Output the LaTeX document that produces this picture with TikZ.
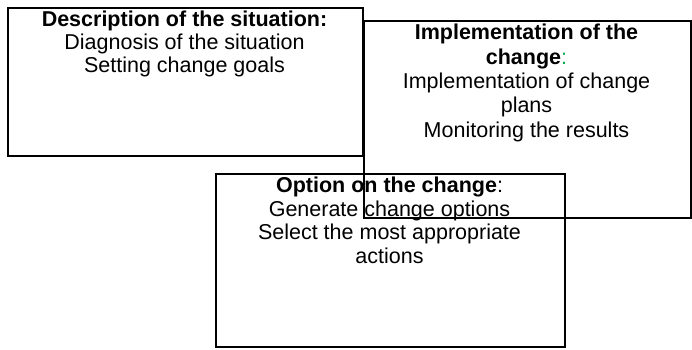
\documentclass[tikz,border=0pt]{standalone}
\usepackage{fontspec}
\setmainfont{Liberation Sans}
\usetikzlibrary{positioning}
\definecolor{colongreen}{RGB}{0,176,80}

\tikzset{
	stagebox/.style={draw, line width=1.8pt, inner sep=0pt, anchor=north west},
	stagetext/.style={align=center, anchor=base, inner sep=0pt,
		font=\fontsize{21.5}{23.4}\selectfont}
}

\begin{document}
\begin{tikzpicture}[x=1pt, y=-1pt]
	\useasboundingbox (0,0) rectangle (692,349);

	\node[stagebox, minimum width=355pt, minimum height=148pt] (situation) at (7,7) {};
	\node[stagetext, font=\fontsize{21.5}{22.6}\selectfont] (situationtxt) at (184.5,72) {\textbf{Description of the situation:}\\Diagnosis of the situation\\Setting change goals};

	%partie du bas
	\node[stagebox, minimum width=349pt, minimum height=173pt] (option) at (215,173) {};
	\node[stagetext] (optiontxt) at (389.5,263) {\textbf{Option on the change}:\\Generate change options\\Select the most appropriate\\actions};

	%partie droite
	\node[stagebox, minimum width=327pt, minimum height=197pt] (implementation) at (363,20) {};
	\node[stagetext, font=\fontsize{21.5}{24.3}\selectfont] (implementationtxt) at (526.5,137) {\textbf{Implementation of the}\\\textbf{change}\textcolor{colongreen}{:}\\Implementation of change\\plans\\Monitoring the results};
\end{tikzpicture}
\end{document}
